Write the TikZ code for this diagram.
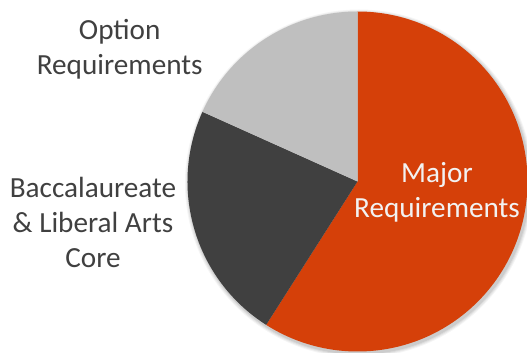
\documentclass[tikz,border=0pt]{standalone}
\usepackage{fontspec}
\setmainfont{Carlito}
\usepackage{tikz}
\usetikzlibrary{calc}

\definecolor{majorc}{RGB}{213,64,9}
\definecolor{corec}{RGB}{64,64,64}
\definecolor{optionc}{RGB}{191,191,191}
\definecolor{labelc}{RGB}{64,64,64}

\begin{document}
\begin{tikzpicture}[x=1pt, y=1pt, every node/.style={font=\fontsize{29.2}{35}\selectfont, align=center, inner sep=0pt}]
	\useasboundingbox (0,0) rectangle (527,353);
	\coordinate (c) at (357.5,171.5);

	% Shadow
	\foreach \s/\o in {4/0.04,3/0.05,2/0.06,1/0.07}
		\fill[black, opacity=\o] ($(c)+(1.5,-2)$) circle[radius=170+\s];

	% Slices
	\fill[majorc] (c) -- ++(90:170) arc[start angle=90, end angle=-122.5, radius=170] -- cycle;
	\fill[corec] (c) -- ++(155.8:170) arc[start angle=155.8, end angle=237.5, radius=170] -- cycle;
	\fill[optionc] (c) -- ++(90:170) arc[start angle=90, end angle=155.8, radius=170] -- cycle;

	% Labels
	\node[text=labelc] (option) at (119.7,304.2) {Option\\Requirements};
	\node[text=labelc] (core) at (93,130.3) {Baccalaureate\\\& Liberal Arts\\Core};
	\node[text=white!95!black] (major) at (437,160.6) {Major\\Requirements};
\end{tikzpicture}
\end{document}
